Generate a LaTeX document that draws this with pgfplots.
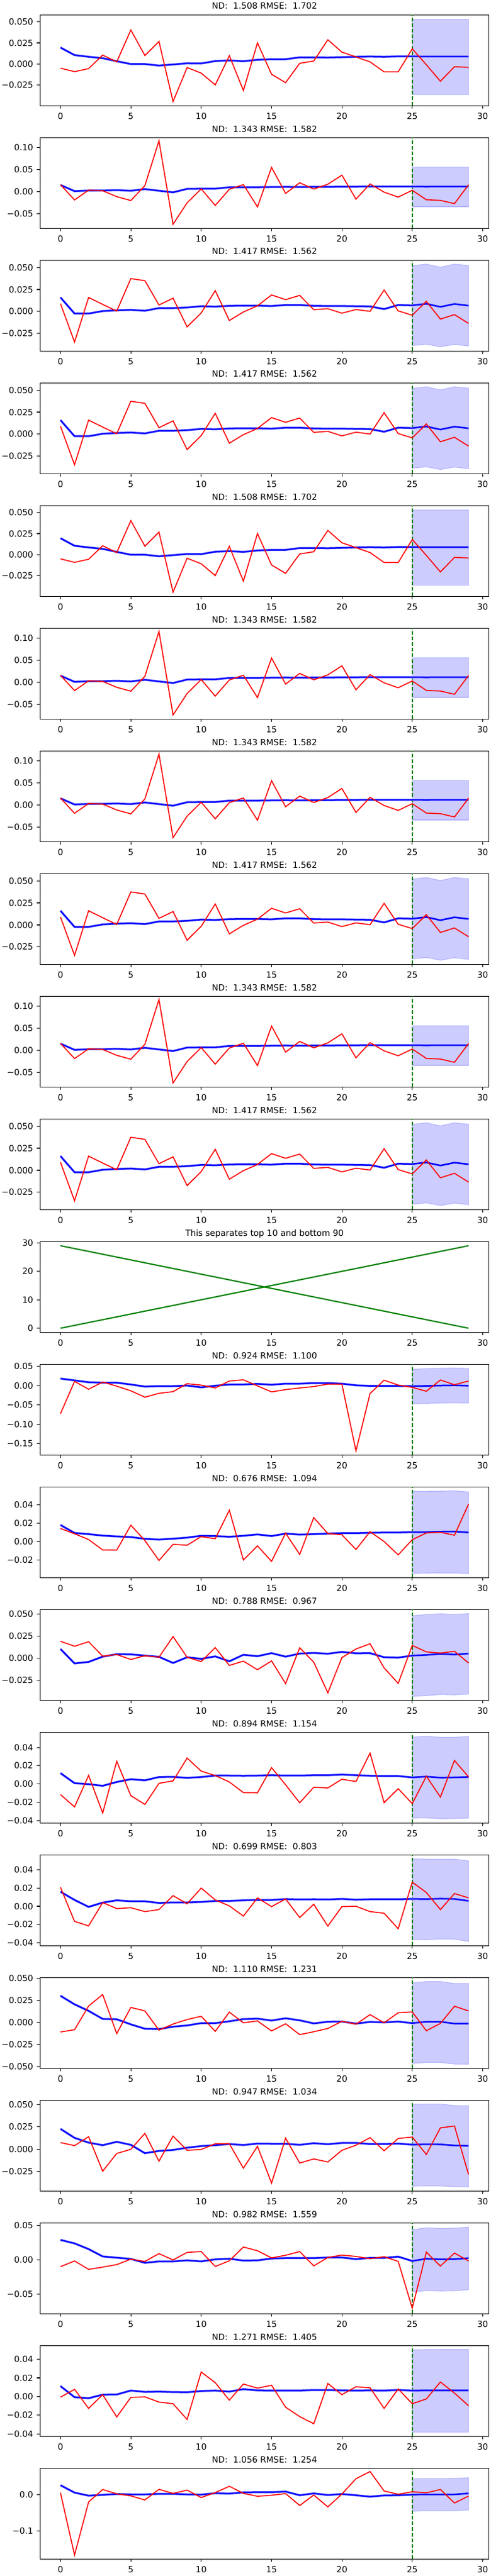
\documentclass[border=0pt]{standalone}
\usepackage{fontspec}
\setmainfont{DejaVu Sans}
\usepackage{pgfplots}
\pgfplotsset{compat=1.18}
\definecolor{mplgreen}{rgb}{0,0.5,0}
\pgfplotsset{
  every axis title/.style={at={(0.5,1)}, anchor=base, yshift=6.7bp, inner sep=0pt, font=\fontsize{10bp}{12bp}\selectfont},
  ts/.style={
    anchor=south west, scale only axis, width=526.6bp, height=106.56bp,
    xmin=-1.45, xmax=30.45, xtick={0,5,10,15,20,25,30},
    scaled y ticks=false, scaled x ticks=false,
    tick align=outside, major tick length=3.5bp, tick pos=left,
    every tick/.append style={black, line width=0.8bp},
    axis line style={line width=0.8bp},
    tick label style={font=\fontsize{10bp}{12bp}\selectfont},
    xticklabel style={inner sep=0pt, anchor=north, yshift=-5.1bp},
    yticklabel style={inner sep=0pt, anchor=east, xshift=-4.4bp},
    /pgf/number format/assume math mode=true,
  },
  redl/.style={red, line width=1.2bp, mark=none},
  bluel/.style={blue, line width=1.8bp, mark=none, preaction={draw, blue!25, line width=2.9bp}},
  band/.style={fill=blue, fill opacity=0.2, draw=blue, draw opacity=0.2, line width=0.8bp},
}
\newcommand{\tspanel}[9]{%
\begin{axis}[ts, at={(47bp,#1)}, title={#2}, ymin=#3, ymax=#4, ytick={#5}, yticklabels={#6}]
\addplot[band] coordinates {#9} -- cycle;
\draw[mplgreen, line width=1.2bp, dash pattern=on 4.4bp off 2.2bp] ({axis cs:25,0}|-{rel axis cs:0,0}) -- ({axis cs:25,0}|-{rel axis cs:0,1});
\addplot[bluel] coordinates {#8};
\addplot[redl] coordinates {#7};
\end{axis}}
\newcommand{\panelA}[1]{\tspanel{#1}{ND:\ \ 1.508 RMSE:\ \ 1.702}{-0.0499}{0.0585}{-0.05,-0.025,0,0.025,0.05}{−0.050,−0.025,0.000,0.025,0.050}
{(0,-0.0051)(1,-0.0093)(2,-0.0056)(3,0.0105)(4,0.0024)(5,0.0405)(6,0.0100)(7,0.0268)(8,-0.0449)(9,-0.0044)(10,-0.0110)(11,-0.0251)(12,0.0098)(13,-0.0317)(14,0.0251)(15,-0.0124)(16,-0.0224)(17,0.0007)(18,0.0034)(19,0.0288)(20,0.0141)(21,0.0083)(22,0.0024)(23,-0.0095)(24,-0.0095)(25,0.0180)(26,-0.0010)(27,-0.0207)(28,-0.0034)(29,-0.0041)}
{(0,0.0195)(1,0.0105)(2,0.0085)(3,0.0068)(4,0.0032)(5,-0.0002)(6,-0.0002)(7,-0.0020)(8,-0.0007)(9,0.0007)(10,0.0005)(11,0.0034)(12,0.0041)(13,0.0032)(14,0.0049)(15,0.0056)(16,0.0056)(17,0.0078)(18,0.0078)(19,0.0076)(20,0.0080)(21,0.0085)(22,0.0088)(23,0.0085)(24,0.0090)(25,0.0090)(26,0.0088)(27,0.0088)(28,0.0088)(29,0.0088)}
{(25,0.0534)(26,0.0534)(27,0.0534)(28,0.0534)(29,0.0534)(29,-0.0366)(28,-0.0366)(27,-0.0366)(26,-0.0366)(25,-0.0366)}}
\newcommand{\panelB}[1]{\tspanel{#1}{ND:\ \ 1.343 RMSE:\ \ 1.582}{-0.0831}{0.1219}{-0.05,0,0.05,0.1}{−0.05,0.00,0.05,0.10}
{(0,0.0157)(1,-0.0189)(2,0.0032)(3,0.0018)(4,-0.0115)(5,-0.0203)(6,0.0134)(7,0.1146)(8,-0.0739)(9,-0.0254)(10,0.0060)(11,-0.0314)(12,0.0051)(13,0.0157)(14,-0.0347)(15,0.0545)(16,-0.0042)(17,0.0199)(18,0.0055)(19,0.0166)(20,0.0370)(21,-0.0171)(22,0.0171)(23,-0.0014)(24,-0.0125)(25,0.0028)(26,-0.0185)(27,-0.0199)(28,-0.0273)(29,0.0152)}
{(0,0.0148)(1,0.0009)(2,0.0023)(3,0.0023)(4,0.0032)(5,0.0018)(6,0.0055)(7,0.0018)(8,-0.0018)(9,0.0060)(10,0.0065)(11,0.0065)(12,0.0097)(13,0.0097)(14,0.0097)(15,0.0102)(16,0.0106)(17,0.0102)(18,0.0106)(19,0.0106)(20,0.0111)(21,0.0111)(22,0.0115)(23,0.0115)(24,0.0115)(25,0.0115)(26,0.0111)(27,0.0115)(28,0.0115)(29,0.0115)}
{(25,0.0554)(26,0.0554)(27,0.0554)(28,0.0554)(29,0.0554)(29,-0.0342)(28,-0.0342)(27,-0.0342)(26,-0.0342)(25,-0.0342)}}
\newcommand{\panelC}[1]{\tspanel{#1}{ND:\ \ 1.417 RMSE:\ \ 1.562}{-0.0448}{0.0582}{-0.025,0,0.025,0.05}{−0.025,0.000,0.025,0.050}
{(0,0.0090)(1,-0.0346)(2,0.0160)(3,0.0081)(4,0.0005)(5,0.0374)(6,0.0350)(7,0.0074)(8,0.0151)(9,-0.0174)(10,-0.0016)(11,0.0237)(12,-0.0102)(13,-0.0005)(14,0.0065)(15,0.0188)(16,0.0135)(17,0.0183)(18,0.0021)(19,0.0032)(20,-0.0019)(21,0.0023)(22,0.0002)(23,0.0244)(24,0.0007)(25,-0.0042)(26,0.0116)(27,-0.0086)(28,-0.0035)(29,-0.0135)}
{(0,0.0160)(1,-0.0023)(2,-0.0023)(3,0.0005)(4,0.0014)(5,0.0019)(6,0.0009)(7,0.0039)(8,0.0039)(9,0.0046)(10,0.0060)(11,0.0056)(12,0.0065)(13,0.0067)(14,0.0067)(15,0.0063)(16,0.0074)(17,0.0074)(18,0.0065)(19,0.0063)(20,0.0063)(21,0.0060)(22,0.0058)(23,0.0028)(24,0.0074)(25,0.0070)(26,0.0088)(27,0.0053)(28,0.0086)(29,0.0067)}
{(25,0.0520)(26,0.0538)(27,0.0503)(28,0.0538)(29,0.0522)(29,-0.0392)(28,-0.0374)(27,-0.0401)(26,-0.0371)(25,-0.0387)}}
\begin{document}
\begin{tikzpicture}
\useasboundingbox (0,0) rectangle (576bp,3024bp);
\panelA{2899.9bp}
\panelB{2755.9bp}
\panelC{2611.9bp}
\panelC{2467.9bp}
\panelA{2323.9bp}
\panelB{2179.9bp}
\panelB{2035.9bp}
\panelC{1891.9bp}
\panelB{1747.9bp}
\panelC{1603.9bp}
\begin{axis}[ts, at={(47bp,1459.9bp)}, title={This separates top 10 and bottom 90}, ymin=-1.45, ymax=30.45, ytick={0,10,20,30}]
\addplot[mplgreen, line width=1.5bp, mark=none] coordinates {(0,0)(29,29)};
\addplot[mplgreen, line width=1.5bp, mark=none] coordinates {(0,29)(29,0)};
\end{axis}
\tspanel{1315.9bp}{ND:\ \ 0.924 RMSE:\ \ 1.100}{-0.1794}{0.0556}{-0.15,-0.1,-0.05,0,0.05}{−0.15,−0.10,−0.05,0.00,0.05}
{(0,-0.0725)(1,0.0111)(2,-0.0090)(3,0.0095)(4,-0.0011)(5,-0.0132)(6,-0.0296)(7,-0.0196)(8,-0.0153)(9,0.0053)(10,0.0016)(11,-0.0058)(12,0.0122)(13,0.0153)(14,-0.0005)(15,-0.0159)(16,-0.0100)(17,-0.0058)(18,-0.0021)(19,0.0042)(20,0.0042)(21,-0.1688)(22,-0.0201)(23,0.0143)(24,0.0016)(25,-0.0042)(26,-0.0143)(27,0.0148)(28,0.0026)(29,0.0122)}
{(0,0.0185)(1,0.0138)(2,0.0090)(3,0.0079)(4,0.0079)(5,0.0032)(6,-0.0021)(7,-0.0011)(8,-0.0011)(9,0.0005)(10,-0.0042)(11,0.0000)(12,0.0032)(13,0.0032)(14,0.0048)(15,0.0026)(16,0.0053)(17,0.0053)(18,0.0069)(19,0.0069)(20,0.0053)(21,0.0011)(22,-0.0005)(23,-0.0005)(24,-0.0005)(25,-0.0011)(26,-0.0005)(27,0.0005)(28,0.0011)(29,0.0000)}
{(25,0.0428)(26,0.0444)(27,0.0455)(28,0.0460)(29,0.0450)(29,-0.0450)(28,-0.0444)(27,-0.0450)(26,-0.0460)(25,-0.0466)}
\tspanel{1171.9bp}{ND:\ \ 0.676 RMSE:\ \ 1.094}{-0.0396}{0.0598}{-0.02,0,0.02,0.04}{−0.02,0.00,0.02,0.04}
{(0,0.0143)(1,0.0085)(2,0.0022)(3,-0.0092)(4,-0.0094)(5,0.0179)(6,0.0011)(7,-0.0208)(8,-0.0031)(9,-0.0040)(10,0.0054)(11,0.0031)(12,0.0343)(13,-0.0202)(14,-0.0047)(15,-0.0217)(16,0.0092)(17,-0.0141)(18,0.0262)(19,0.0087)(20,0.0074)(21,-0.0087)(22,0.0108)(23,0.0000)(24,-0.0146)(25,0.0020)(26,0.0094)(27,0.0101)(28,0.0069)(29,0.0410)}
{(0,0.0181)(1,0.0094)(2,0.0081)(3,0.0065)(4,0.0056)(5,0.0049)(6,0.0029)(7,0.0022)(8,0.0031)(9,0.0043)(10,0.0063)(11,0.0060)(12,0.0052)(13,0.0063)(14,0.0078)(15,0.0060)(16,0.0087)(17,0.0076)(18,0.0081)(19,0.0087)(20,0.0092)(21,0.0092)(22,0.0096)(23,0.0099)(24,0.0099)(25,0.0103)(26,0.0103)(27,0.0108)(28,0.0110)(29,0.0099)}
{(25,0.0551)(26,0.0551)(27,0.0553)(28,0.0556)(29,0.0544)(29,-0.0352)(28,-0.0345)(27,-0.0345)(26,-0.0347)(25,-0.0349)}
\tspanel{1027.9bp}{ND:\ \ 0.788 RMSE:\ \ 0.967}{-0.0482}{0.0552}{-0.025,0,0.025,0.05}{−0.025,0.000,0.025,0.050}
{(0,0.0191)(1,0.0135)(2,0.0186)(3,0.0021)(4,0.0040)(5,-0.0016)(6,0.0026)(7,0.0009)(8,0.0245)(9,0.0009)(10,-0.0040)(11,0.0119)(12,-0.0084)(13,-0.0035)(14,-0.0133)(15,-0.0033)(16,-0.0291)(17,0.0117)(18,-0.0047)(19,-0.0396)(20,0.0005)(21,0.0103)(22,0.0163)(23,-0.0112)(24,-0.0289)(25,0.0144)(26,0.0070)(27,0.0056)(28,0.0077)(29,-0.0056)}
{(0,0.0103)(1,-0.0061)(2,-0.0044)(3,0.0016)(4,0.0044)(5,0.0042)(6,0.0028)(7,0.0014)(8,-0.0056)(9,0.0009)(10,-0.0009)(11,0.0019)(12,-0.0037)(13,0.0037)(14,0.0021)(15,0.0056)(16,0.0016)(17,0.0051)(18,0.0058)(19,0.0049)(20,0.0070)(21,0.0054)(22,0.0056)(23,0.0009)(24,0.0005)(25,0.0028)(26,0.0035)(27,0.0047)(28,0.0040)(29,0.0051)}
{(25,0.0482)(26,0.0496)(27,0.0506)(28,0.0496)(29,0.0508)(29,-0.0410)(28,-0.0419)(27,-0.0415)(26,-0.0429)(25,-0.0436)}
\tspanel{883.9bp}{ND:\ \ 0.894 RMSE:\ \ 1.154}{-0.0428}{0.0567}{-0.04,-0.02,0,0.02,0.04}{−0.04,−0.02,0.00,0.02,0.04}
{(0,-0.0116)(1,-0.0251)(2,0.0094)(3,-0.0318)(4,0.0249)(5,-0.0128)(6,-0.0224)(7,0.0007)(8,0.0034)(9,0.0284)(10,0.0141)(11,0.0092)(12,0.0022)(13,-0.0094)(14,-0.0096)(15,0.0179)(16,-0.0009)(17,-0.0206)(18,-0.0036)(19,-0.0043)(20,0.0052)(21,0.0027)(22,0.0338)(23,-0.0204)(24,-0.0052)(25,-0.0215)(26,0.0085)(27,-0.0143)(28,0.0258)(29,0.0078)}
{(0,0.0119)(1,0.0009)(2,-0.0002)(3,-0.0020)(4,0.0022)(5,0.0052)(6,0.0040)(7,0.0076)(8,0.0078)(9,0.0067)(10,0.0076)(11,0.0092)(12,0.0092)(13,0.0090)(14,0.0092)(15,0.0096)(16,0.0092)(17,0.0092)(18,0.0096)(19,0.0096)(20,0.0103)(21,0.0096)(22,0.0090)(23,0.0087)(24,0.0087)(25,0.0072)(26,0.0081)(27,0.0069)(28,0.0072)(29,0.0076)}
{(25,0.0515)(26,0.0522)(27,0.0513)(28,0.0513)(29,0.0520)(29,-0.0374)(28,-0.0379)(27,-0.0381)(26,-0.0372)(25,-0.0374)}
\tspanel{739.9bp}{ND:\ \ 0.699 RMSE:\ \ 0.803}{-0.0431}{0.0561}{-0.04,-0.02,0,0.02,0.04}{−0.04,−0.02,0.00,0.02,0.04}
{(0,0.0208)(1,-0.0165)(2,-0.0215)(3,0.0040)(4,-0.0025)(5,-0.0016)(6,-0.0058)(7,-0.0036)(8,0.0116)(9,0.0027)(10,0.0199)(11,0.0069)(12,0.0004)(13,-0.0107)(14,0.0092)(15,-0.0004)(16,0.0080)(17,-0.0123)(18,0.0022)(19,-0.0217)(20,-0.0004)(21,0.0000)(22,-0.0058)(23,-0.0076)(24,-0.0246)(25,0.0264)(26,0.0150)(27,-0.0036)(28,0.0139)(29,0.0092)}
{(0,0.0159)(1,0.0069)(2,-0.0007)(3,0.0040)(4,0.0065)(5,0.0054)(6,0.0054)(7,0.0036)(8,0.0042)(9,0.0042)(10,0.0047)(11,0.0058)(12,0.0058)(13,0.0065)(14,0.0069)(15,0.0069)(16,0.0078)(17,0.0074)(18,0.0076)(19,0.0074)(20,0.0080)(21,0.0072)(22,0.0076)(23,0.0076)(24,0.0076)(25,0.0080)(26,0.0078)(27,0.0083)(28,0.0080)(29,0.0058)}
{(25,0.0519)(26,0.0516)(27,0.0516)(28,0.0516)(29,0.0496)(29,-0.0384)(28,-0.0360)(27,-0.0358)(26,-0.0367)(25,-0.0364)}
\tspanel{595.9bp}{ND:\ \ 1.110 RMSE:\ \ 1.231}{-0.0521}{0.0507}{-0.05,-0.025,0,0.025,0.05}{−0.050,−0.025,0.000,0.025,0.050}
{(0,-0.0109)(1,-0.0083)(2,0.0185)(3,0.0315)(4,-0.0127)(5,0.0169)(6,0.0130)(7,-0.0088)(8,-0.0019)(9,0.0032)(10,0.0069)(11,-0.0102)(12,0.0116)(13,-0.0005)(14,0.0016)(15,-0.0097)(16,-0.0016)(17,-0.0139)(18,-0.0106)(19,-0.0069)(20,0.0012)(21,-0.0021)(22,0.0088)(23,-0.0005)(24,0.0109)(25,0.0118)(26,-0.0095)(27,-0.0012)(28,0.0183)(29,0.0130)}
{(0,0.0301)(1,0.0204)(2,0.0130)(3,0.0039)(4,0.0035)(5,-0.0023)(6,-0.0072)(7,-0.0076)(8,-0.0049)(9,-0.0035)(10,-0.0009)(11,-0.0009)(12,0.0012)(13,0.0037)(14,0.0042)(15,0.0021)(16,0.0046)(17,0.0023)(18,-0.0012)(19,0.0007)(20,0.0009)(21,-0.0014)(22,0.0005)(23,0.0000)(24,0.0009)(25,-0.0009)(26,0.0007)(27,0.0007)(28,-0.0014)(29,-0.0014)}
{(25,0.0447)(26,0.0463)(27,0.0463)(28,0.0440)(29,0.0440)(29,-0.0474)(28,-0.0472)(27,-0.0454)(26,-0.0454)(25,-0.0465)}
\tspanel{451.9bp}{ND:\ \ 0.947 RMSE:\ \ 1.034}{-0.0465}{0.0547}{-0.025,0,0.025,0.05}{−0.025,0.000,0.025,0.050}
{(0,0.0075)(1,0.0041)(2,0.0141)(3,-0.0244)(4,-0.0046)(5,0.0000)(6,0.0178)(7,-0.0132)(8,0.0148)(9,-0.0011)(10,-0.0002)(11,0.0062)(12,0.0062)(13,-0.0210)(14,0.0034)(15,-0.0376)(16,0.0125)(17,-0.0153)(18,-0.0107)(19,-0.0141)(20,-0.0011)(21,0.0046)(22,0.0130)(23,-0.0016)(24,0.0121)(25,0.0137)(26,-0.0057)(27,0.0239)(28,0.0260)(29,-0.0280)}
{(0,0.0228)(1,0.0128)(2,0.0075)(3,0.0046)(4,0.0084)(5,0.0050)(6,-0.0043)(7,-0.0018)(8,-0.0007)(9,0.0018)(10,0.0036)(11,0.0046)(12,0.0059)(13,0.0048)(14,0.0064)(15,0.0062)(16,0.0062)(17,0.0050)(18,0.0068)(19,0.0057)(20,0.0071)(21,0.0071)(22,0.0059)(23,0.0059)(24,0.0064)(25,0.0052)(26,0.0057)(27,0.0055)(28,0.0043)(29,0.0039)}
{(25,0.0502)(26,0.0506)(27,0.0506)(28,0.0488)(29,0.0486)(29,-0.0420)(28,-0.0417)(27,-0.0408)(26,-0.0408)(25,-0.0410)}
\tspanel{307.9bp}{ND:\ \ 0.982 RMSE:\ \ 1.559}{-0.0786}{0.0536}{-0.05,0,0.05}{−0.05,0.00,0.05}
{(0,-0.0101)(1,-0.0018)(2,-0.0140)(3,-0.0107)(4,-0.0071)(5,0.0009)(6,-0.0024)(7,0.0089)(8,-0.0003)(9,0.0107)(10,0.0119)(11,-0.0098)(12,-0.0015)(13,0.0185)(14,0.0131)(15,0.0027)(16,0.0065)(17,0.0119)(18,-0.0089)(19,0.0033)(20,0.0068)(21,0.0048)(22,0.0015)(23,0.0045)(24,-0.0024)(25,-0.0705)(26,0.0110)(27,-0.0092)(28,0.0098)(29,-0.0018)}
{(0,0.0289)(1,0.0238)(2,0.0155)(3,0.0048)(4,0.0030)(5,0.0012)(6,-0.0045)(7,-0.0024)(8,-0.0024)(9,-0.0009)(10,-0.0024)(11,0.0006)(12,0.0015)(13,-0.0012)(14,-0.0009)(15,0.0018)(16,0.0024)(17,0.0024)(18,0.0024)(19,0.0033)(20,0.0033)(21,0.0009)(22,0.0027)(23,0.0027)(24,0.0045)(25,-0.0018)(26,0.0015)(27,0.0006)(28,0.0009)(29,0.0024)}
{(25,0.0437)(26,0.0467)(27,0.0455)(28,0.0461)(29,0.0476)(29,-0.0437)(28,-0.0452)(27,-0.0455)(26,-0.0449)(25,-0.0473)}
\tspanel{163.9bp}{ND:\ \ 1.271 RMSE:\ \ 1.405}{-0.0427}{0.0546}{-0.04,-0.02,0,0.02,0.04}{−0.04,−0.02,0.00,0.02,0.04}
{(0,-0.0007)(1,0.0077)(2,-0.0127)(3,0.0020)(4,-0.0219)(5,-0.0009)(6,-0.0004)(7,-0.0059)(8,-0.0077)(9,-0.0246)(10,0.0263)(11,0.0149)(12,-0.0039)(13,0.0134)(14,0.0090)(15,0.0121)(16,-0.0114)(17,-0.0215)(18,-0.0292)(19,0.0140)(20,0.0020)(21,0.0105)(22,0.0094)(23,-0.0127)(24,0.0081)(25,-0.0077)(26,-0.0026)(27,0.0156)(28,0.0037)(29,-0.0099)}
{(0,0.0112)(1,-0.0007)(2,-0.0018)(3,0.0020)(4,0.0022)(5,0.0064)(6,0.0050)(7,0.0053)(8,0.0048)(9,0.0046)(10,0.0059)(11,0.0064)(12,0.0053)(13,0.0079)(14,0.0066)(15,0.0064)(16,0.0064)(17,0.0064)(18,0.0070)(19,0.0070)(20,0.0066)(21,0.0064)(22,0.0066)(23,0.0064)(24,0.0070)(25,0.0064)(26,0.0066)(27,0.0066)(28,0.0066)(29,0.0066)}
{(25,0.0502)(26,0.0504)(27,0.0506)(28,0.0506)(29,0.0506)(29,-0.0381)(28,-0.0381)(27,-0.0381)(26,-0.0381)(25,-0.0381)}
\tspanel{19.9bp}{ND:\ \ 1.056 RMSE:\ \ 1.254}{-0.177}{0.0725}{-0.1,0}{−0.1,0.0}
{(0,0.0051)(1,-0.1658)(2,-0.0202)(3,0.0141)(4,0.0022)(5,-0.0034)(6,-0.0146)(7,0.0146)(8,0.0034)(9,0.0124)(10,-0.0079)(11,0.0056)(12,0.0230)(13,0.0034)(14,-0.0045)(15,-0.0017)(16,0.0028)(17,-0.0298)(18,-0.0011)(19,-0.0337)(20,0.0017)(21,0.0438)(22,0.0635)(23,0.0101)(24,0.0011)(25,0.0079)(26,0.0051)(27,0.0141)(28,-0.0230)(29,-0.0039)}
{(0,0.0259)(1,0.0056)(2,-0.0028)(3,-0.0006)(4,0.0017)(5,0.0006)(6,0.0006)(7,0.0022)(8,0.0022)(9,0.0006)(10,0.0000)(11,0.0039)(12,0.0028)(13,0.0062)(14,0.0067)(15,0.0067)(16,0.0084)(17,-0.0017)(18,0.0034)(19,-0.0011)(20,0.0017)(21,-0.0017)(22,-0.0056)(23,-0.0022)(24,-0.0017)(25,0.0000)(26,0.0006)(27,0.0006)(28,0.0006)(29,0.0034)}
{(25,0.0438)(26,0.0444)(27,0.0444)(28,0.0450)(29,0.0466)(29,-0.0422)(28,-0.0444)(27,-0.0444)(26,-0.0444)(25,-0.0455)}
\end{tikzpicture}
\end{document}
